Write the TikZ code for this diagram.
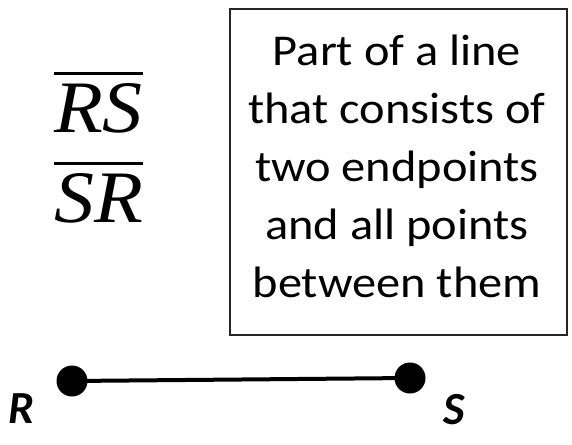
\documentclass[tikz,border=0pt]{standalone}
\usepackage{fontspec}
\setmainfont{Carlito}
\newfontfamily\segfont{Liberation Serif}
\begin{document}
\begin{tikzpicture}[x=1pt,y=-1pt,
  boxtext/.style={align=center,inner sep=0pt,font=\fontsize{44}{58}\selectfont,xscale=1.1,transform shape},
  ptlabel/.style={inner sep=0pt,anchor=base,font=\fontsize{46}{50}\selectfont\bfseries\itshape},
  segname/.style={inner sep=0pt,anchor=base,font=\fontsize{74}{80}\selectfont\segfont\itshape},
  segbar/.style={line width=3pt},
  dotpt/.style={circle,fill=black,inner sep=0pt,minimum size=31pt},
  frame/.style={draw=black!85,line width=1.5pt}]
\useasboundingbox (0,0) rectangle (572,444);
\draw[frame] (230,9) rectangle (567,335);
\coordinate (dc) at (397,297);
\node[boxtext,anchor=base] (def) at (dc) {Part of a line\\that consists of\\two endpoints\\and all points\\between them};
\node[segname] (rs) at (98.5,132) {\scalebox{1.08}[1]{RS}};
\node[segname] (sr) at (98.5,222) {\scalebox{1.08}[1]{SR}};
\draw[segbar] ([yshift=9pt]rs.north west) -- ([yshift=9pt]rs.north east);
\draw[segbar] ([yshift=9pt]sr.north west) -- ([yshift=9pt]sr.north east);
\node[dotpt] (r) at (72,381) {};
\node[dotpt] (s) at (410,378) {};
\draw[line width=4pt] (r.center) -- (s.center);
\node[ptlabel] (rl) at (21,423) {R};
\node[ptlabel] (sl) at (454,424) {S};
\end{tikzpicture}
\end{document}
